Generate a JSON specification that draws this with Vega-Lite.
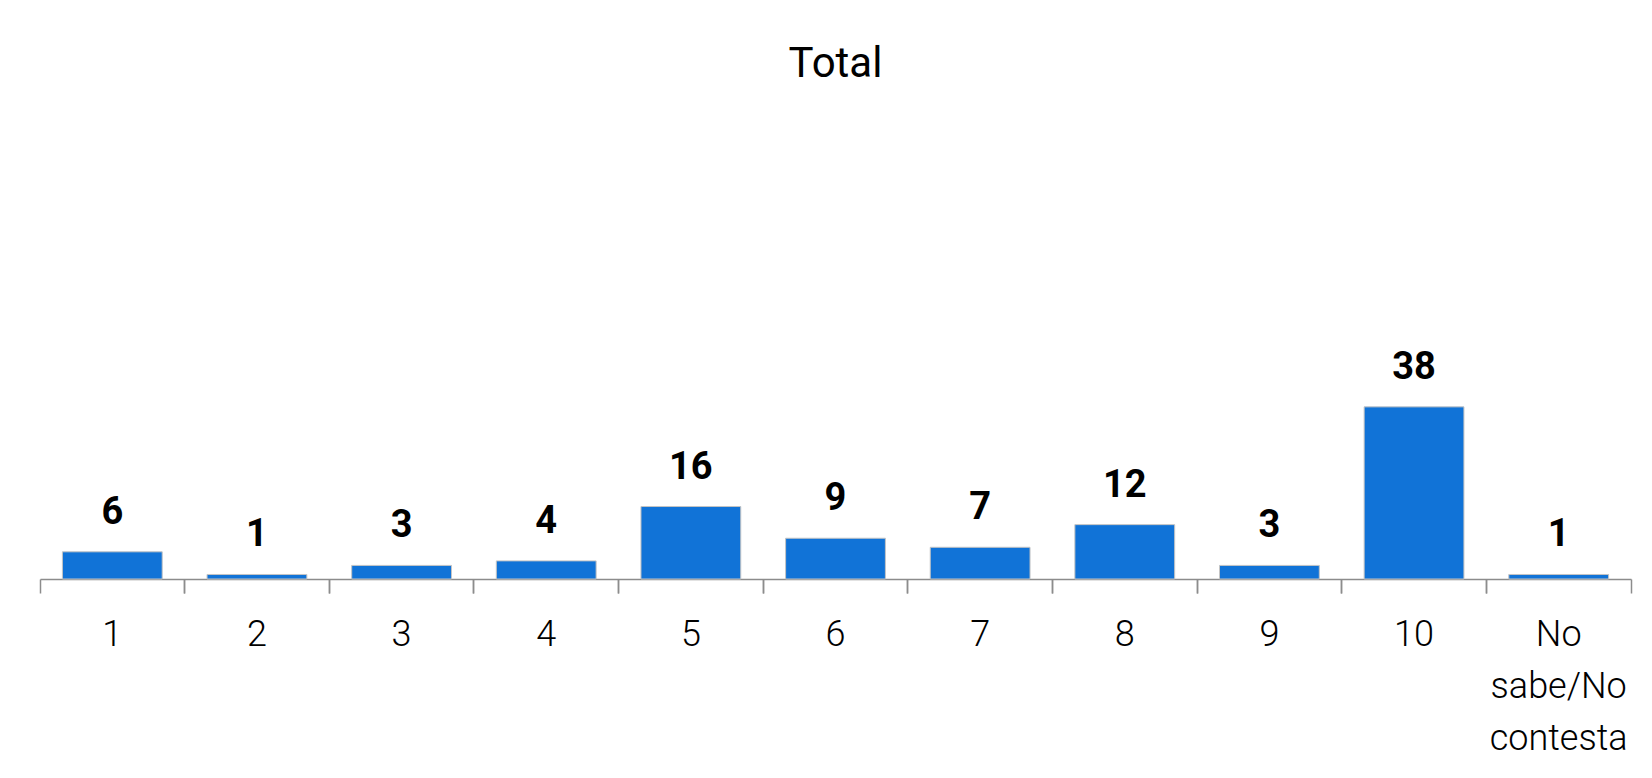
{
  "$schema": "https://vega.github.io/schema/vega-lite/v6.json",
  "autosize": {"type": "none"},
  "padding": {"left": 40, "top": 126, "right": 21, "bottom": 199},
  "width": 1591,
  "height": 453,
  "background": "#ffffff",
  "title": {
    "text": "Total",
    "font": "Roboto",
    "fontSize": 42,
    "fontWeight": "normal",
    "color": "#000000",
    "anchor": "middle",
    "baseline": "alphabetic",
    "offset": 7
  },
  "config": {
    "view": {"stroke": null},
    "axis": {
      "labelFont": "Roboto",
      "labelFontWeight": 300,
      "labelFontSize": 36,
      "labelColor": "#000000",
      "domainColor": "#8c8c8c",
      "domainWidth": 1.5,
      "tickColor": "#8c8c8c",
      "tickWidth": 1.5,
      "tickSize": 14,
      "grid": false
    }
  },
  "data": {
    "values": [
      {"respuesta": "1", "valor": 6},
      {"respuesta": "2", "valor": 1},
      {"respuesta": "3", "valor": 3},
      {"respuesta": "4", "valor": 4},
      {"respuesta": "5", "valor": 16},
      {"respuesta": "6", "valor": 9},
      {"respuesta": "7", "valor": 7},
      {"respuesta": "8", "valor": 12},
      {"respuesta": "9", "valor": 3},
      {"respuesta": "10", "valor": 38},
      {"respuesta": "No sabe/No contesta", "valor": 1}
    ]
  },
  "encoding": {
    "x": {
      "field": "respuesta",
      "type": "nominal",
      "sort": null,
      "scale": {"paddingInner": 0, "paddingOuter": 0}
    },
    "y": {
      "field": "valor",
      "type": "quantitative",
      "scale": {"domain": [0, 100]},
      "axis": null
    }
  },
  "layer": [
    {
      "mark": {
        "type": "bar",
        "width": {"band": 0.69},
        "color": "#1173d7",
        "stroke": "#c4c4c4",
        "strokeWidth": 1
      },
      "encoding": {
        "x": {
          "field": "respuesta",
          "type": "nominal",
          "sort": null,
          "title": null,
          "axis": {
            "orient": "bottom",
            "bandPosition": 0,
            "labelAngle": 0,
            "labelPadding": 24,
            "labelBaseline": "top",
            "labelLineHeight": 52,
            "labelExpr": "split(datum.label, ' ')",
            "labelAlign": "center"
          }
        }
      }
    },
    {
      "mark": {
        "type": "text",
        "font": "Roboto",
        "fontWeight": "bold",
        "fontSize": 38,
        "baseline": "alphabetic",
        "dy": -28,
        "color": "#000000"
      },
      "encoding": {
        "x": {
          "field": "respuesta",
          "type": "nominal",
          "sort": null,
          "title": null,
          "axis": {
            "orient": "bottom",
            "bandPosition": 1,
            "labels": false,
            "domain": false
          }
        },
        "text": {"field": "valor", "type": "quantitative"}
      }
    }
  ],
  "resolve": {"axis": {"x": "independent"}}
}
